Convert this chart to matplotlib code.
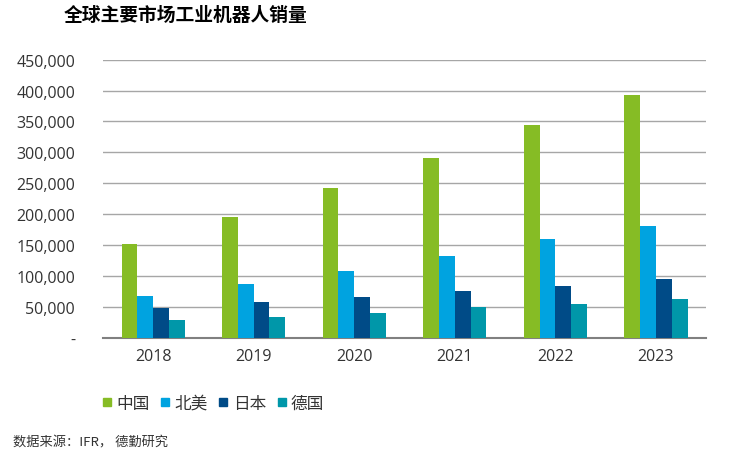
import matplotlib
matplotlib.use("Agg")
import matplotlib.pyplot as plt
import numpy as np
from matplotlib.ticker import FuncFormatter
from matplotlib.lines import Line2D

plt.rcParams['font.family'] = ['Open Sans', 'Noto Sans CJK SC', 'DejaVu Sans']

years = ["2018", "2019", "2020", "2021", "2022", "2023"]
series_names = ["中国", "北美", "日本", "德国"]
china = [152000, 196000, 243000, 291000, 344000, 393000]
north_america = [68000, 87000, 108000, 133000, 160000, 181000]
japan = [49000, 58000, 66000, 76000, 84000, 95500]
germany = [29000, 34000, 40000, 50000, 54500, 62500]
colors = ["#86BC25", "#00A3E0", "#004B87", "#0097A9"]

cjk = ['Noto Sans CJK SC', 'DejaVu Sans']

fig = plt.figure(figsize=(7.45, 4.56), dpi=100)
ax = fig.add_axes([0.138, 0.257, 0.810, 0.61])

x = np.arange(len(years))
w = 0.157
for i, (vals, name, c) in enumerate(zip([china, north_america, japan, germany], series_names, colors)):
    ax.bar(x + (i - 1.5) * w, vals, w, color=c, label=name, zorder=3)

ax.set_xlim(-0.5, len(years) - 0.5)
ax.set_ylim(0, 450000)
ax.set_yticks(np.arange(0, 450001, 50000))
ax.yaxis.set_major_formatter(FuncFormatter(lambda v, p: "-" if v == 0 else f"{int(v):,}"))
ax.set_xticks(x)
ax.set_xticklabels(years)
ax.grid(axis="y", color="#A6A6A6", linewidth=1, zorder=0)
for s in ["top", "right", "left"]:
    ax.spines[s].set_visible(False)
ax.spines["bottom"].set_color("#808080")
ax.spines["bottom"].set_linewidth(1.5)
ax.tick_params(axis="both", length=0, labelsize=11.5, colors="#333333", pad=7)
ax.tick_params(axis="y", pad=20)

fig.text(0.085, 0.967, "全球主要市场工业机器人销量", fontsize=13.5, fontweight="bold",
         va="center", family=cjk)
handles = [Line2D([], [], marker="s", linestyle="", markersize=5.5, color=c) for c in colors]
leg = ax.legend(handles, series_names, loc="center left", bbox_to_anchor=(0.0, -0.235), ncol=4,
                frameon=False, borderpad=0, borderaxespad=0,
                prop={"family": cjk, "size": 12}, handlelength=0.5,
                handletextpad=0.3, columnspacing=0.7, labelcolor="#333333")
fig.text(0.018, 0.028, "数据来源：IFR， 德勤研究", fontsize=9.5, color="#333333",
         va="center", family=cjk)

fig.savefig("out.png", dpi=100)
